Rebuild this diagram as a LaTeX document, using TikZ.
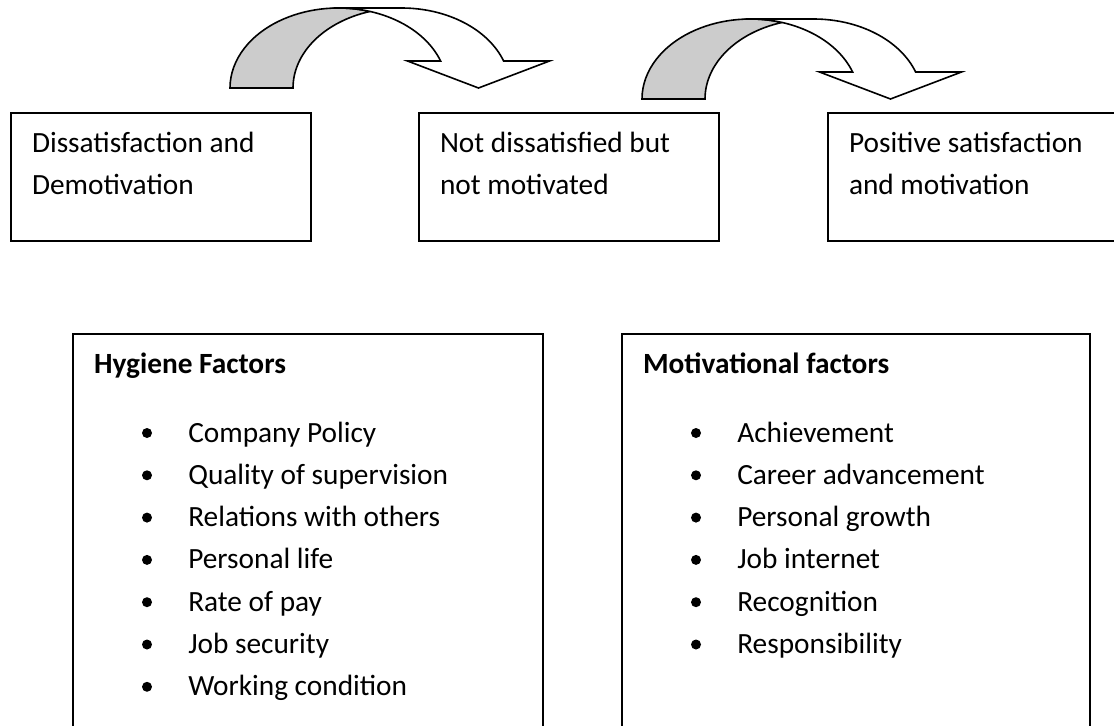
\documentclass[tikz,border=0pt]{standalone}
\usepackage{fontspec}
\setmainfont{Carlito}
\usetikzlibrary{positioning,calc}

\newcommand{\boxtext}[3]{\parbox[c][#2][t]{#1}{\rule{0pt}{29.25pt}#3}}

\begin{document}
\begin{tikzpicture}[x=0.75pt,y=-0.75pt,
 every node/.style={font=\fontsize{22}{31.7}\selectfont},
 stage/.style={draw,line width=1.5pt,inner xsep=15.75pt,inner ysep=0pt},
 factors/.style={draw,line width=1.5pt,inner xsep=15.75pt,inner ysep=0pt},
 entry/.style={anchor=base west,inner sep=0pt},
 turnarrow/.pic={\filldraw[fill=black!20,line width=1.2pt] (0,0)
   arc[start angle=180,end angle=286.88,x radius=108.5,y radius=80]
   arc[start angle=253.12,end angle=180,x radius=108.5,y radius=80] -- cycle;
 \filldraw[fill=white,line width=1.2pt] (108.5,-80) -- (171.5,-80)
   arc[start angle=270,end angle=340.28,x radius=108.5,y radius=80]
   -- (319.5,-27) -- (248.5,0) -- (177.5,-27) -- (210.6,-27)
   arc[start angle=340.28,end angle=270,x radius=108.5,y radius=80] -- cycle;}]

 \useasboundingbox (0,0) rectangle (1114,725);

 \node[stage,anchor=north west] (dis) at (10,112)
  {\boxtext{193.5pt}{96pt}{Dissatisfaction and\\Demotivation}};
 \node[stage,right=79.5pt of dis] (neutral)
  {\boxtext{193.5pt}{96pt}{Not dissatisfied but\\not motivated}};
 \node[stage,right=80.25pt of neutral] (pos)
  {\boxtext{186pt}{96pt}{Positive satisfaction\\and motivation}};

 \pic at (230,88) {turnarrow};
 \pic at (642,99) {turnarrow};

 \node[factors,anchor=north west] (hyg) at (72,333)
  {\boxtext{321pt}{295pt}{\textbf{Hygiene Factors}}};
 \node[factors,right=57.75pt of hyg] (mot)
  {\boxtext{319.5pt}{295pt}{\textbf{Motivational factors}}};

 % bullet lists
 \foreach \txt [count=\i from 0] in {Company Policy,Quality of supervision,
   Relations with others,Personal life,Rate of pay,Job security,Working condition}
 {\node[entry] (hyg\i) at ($(hyg.north west)+(116,109+42.3*\i)$) {\txt};
  \fill ($(hyg\i.base west)+(-41,-9)$) circle[radius=3.75pt];
 }
 \foreach \txt [count=\i from 0] in {Achievement,Career advancement,
   Personal growth,Job internet,Recognition,Responsibility}
 {\node[entry] (mot\i) at ($(mot.north west)+(116,109+42.3*\i)$) {\txt};
  \fill ($(mot\i.base west)+(-41,-9)$) circle[radius=3.75pt];
 }

\end{tikzpicture}
\end{document}
